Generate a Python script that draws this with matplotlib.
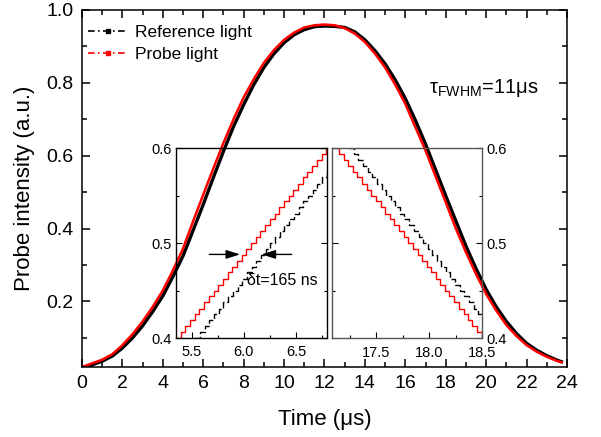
import matplotlib
matplotlib.use('Agg')
import matplotlib.pyplot as plt
from matplotlib.lines import Line2D
from matplotlib.ticker import MultipleLocator, FormatStrFormatter

plt.rcParams['font.family'] = ['Liberation Sans', 'DejaVu Sans']
plt.rcParams['mathtext.fontset'] = 'custom'
plt.rcParams['mathtext.rm'] = 'Liberation Sans'
plt.rcParams['mathtext.it'] = 'Liberation Sans:italic'

# ---------------- data ----------------
time_us = [0, 0.5, 1, 1.5, 2, 2.5, 3, 3.5, 4, 4.5, 5, 5.5, 6, 6.5, 7, 7.5, 8, 8.5,
           9, 9.5, 10, 10.5, 11, 11.5, 12, 12.5, 13, 13.5, 14, 14.5, 15, 15.5, 16,
           16.5, 17, 17.5, 18, 18.5, 19, 19.5, 20, 20.5, 21, 21.5, 22, 22.5, 23,
           23.5, 23.8]
reference_light = [0.018, 0.026, 0.036, 0.050, 0.072, 0.100, 0.133, 0.172, 0.215,
                   0.268, 0.325, 0.395, 0.466, 0.540, 0.612, 0.680, 0.740, 0.795,
                   0.842, 0.880, 0.910, 0.932, 0.946, 0.954, 0.956, 0.955, 0.952,
                   0.940, 0.918, 0.888, 0.852, 0.808, 0.757, 0.697, 0.632, 0.561,
                   0.490, 0.421, 0.352, 0.290, 0.233, 0.185, 0.145, 0.112, 0.085,
                   0.066, 0.051, 0.039, 0.033]
probe_light = [0.020, 0.030, 0.040, 0.055, 0.080, 0.110, 0.145, 0.185, 0.230,
               0.285, 0.345, 0.420, 0.493, 0.565, 0.635, 0.700, 0.760, 0.810,
               0.855, 0.890, 0.918, 0.938, 0.952, 0.958, 0.960, 0.958, 0.950,
               0.935, 0.912, 0.880, 0.842, 0.795, 0.742, 0.678, 0.614, 0.543,
               0.472, 0.400, 0.335, 0.275, 0.220, 0.175, 0.135, 0.105, 0.080,
               0.062, 0.048, 0.037, 0.032]

# inset 1 (rising edge, digitised steps)
in1_probe_t = [5.35, 5.395, 5.44, 5.485, 5.53, 5.575, 5.62, 5.665, 5.71, 5.755,
               5.80, 5.845, 5.89, 5.935, 5.98, 6.025, 6.07, 6.115, 6.16, 6.205,
               6.25, 6.295, 6.34, 6.385, 6.43, 6.475, 6.52, 6.565, 6.61, 6.655,
               6.70, 6.745, 6.79, 6.84]
in1_probe_v = [0.400, 0.406, 0.4125, 0.419, 0.425, 0.431, 0.4375, 0.444, 0.450,
               0.456, 0.4625, 0.469, 0.475, 0.481, 0.4875, 0.494, 0.500, 0.506,
               0.5125, 0.519, 0.525, 0.531, 0.5375, 0.544, 0.550, 0.556, 0.5625,
               0.569, 0.575, 0.581, 0.5875, 0.594, 0.600, 0.606]
in1_ref_t = [5.49, 5.535, 5.58, 5.625, 5.67, 5.715, 5.76, 5.805, 5.85, 5.895,
             5.94, 5.985, 6.03, 6.075, 6.12, 6.165, 6.21, 6.255, 6.30, 6.345,
             6.39, 6.435, 6.48, 6.525, 6.57, 6.615, 6.66, 6.705, 6.75, 6.795, 6.84]
in1_ref_v = [0.394, 0.400, 0.406, 0.4125, 0.419, 0.425, 0.431, 0.4375, 0.444,
             0.450, 0.456, 0.4625, 0.469, 0.475, 0.481, 0.4875, 0.494, 0.500,
             0.506, 0.5125, 0.519, 0.525, 0.531, 0.5375, 0.544, 0.550, 0.556,
             0.5625, 0.569, 0.575, 0.581]

# inset 2 (falling edge, digitised steps)
in2_probe_t = [17.06, 17.10, 17.145, 17.19, 17.235, 17.28, 17.32, 17.365, 17.41,
               17.45, 17.495, 17.54, 17.58, 17.625, 17.67, 17.715, 17.76, 17.80,
               17.845, 17.89, 17.93, 17.975, 18.02, 18.06, 18.105, 18.15, 18.19,
               18.235, 18.28, 18.325, 18.37, 18.41, 18.455, 18.50]
in2_probe_v = [0.606, 0.600, 0.594, 0.5875, 0.581, 0.575, 0.569, 0.5625, 0.556,
               0.550, 0.544, 0.5375, 0.531, 0.525, 0.519, 0.5125, 0.506, 0.500,
               0.494, 0.4875, 0.481, 0.475, 0.469, 0.4625, 0.456, 0.450, 0.444,
               0.4375, 0.431, 0.425, 0.419, 0.4125, 0.406, 0.400]
in2_ref_t = [17.20, 17.24, 17.285, 17.33, 17.375, 17.42, 17.46, 17.505, 17.55,
             17.59, 17.635, 17.68, 17.72, 17.765, 17.81, 17.855, 17.90, 17.94,
             17.985, 18.03, 18.07, 18.115, 18.16, 18.20, 18.245, 18.29, 18.33,
             18.375, 18.42, 18.465, 18.51]
in2_ref_v = [0.606, 0.600, 0.594, 0.5875, 0.581, 0.575, 0.569, 0.5625, 0.556,
             0.550, 0.544, 0.5375, 0.531, 0.525, 0.519, 0.5125, 0.506, 0.500,
             0.494, 0.4875, 0.481, 0.475, 0.469, 0.4625, 0.456, 0.450, 0.444,
             0.4375, 0.431, 0.425, 0.419]

series_labels = ['Reference light', 'Probe light']
delay_left = [5.67, 5.965]
delay_right = [6.46, 6.17]
delay_level = 0.488

# ---------------- figure ----------------
fig = plt.figure(figsize=(6.01, 4.37), dpi=100)
ax = fig.add_axes([0.1364, 0.1602, 0.8070, 0.8170])

ax.plot(time_us, reference_light, color='black', lw=2.4, solid_capstyle='butt')
ax.plot(time_us, probe_light, color='red', lw=1.8, solid_capstyle='butt')

ax.set_xlim(0, 24)
ax.set_ylim(0.02, 1.0)
ax.xaxis.set_major_locator(MultipleLocator(2))
ax.xaxis.set_minor_locator(MultipleLocator(1))
ax.yaxis.set_major_locator(MultipleLocator(0.2))
ax.yaxis.set_minor_locator(MultipleLocator(0.1))
ax.yaxis.set_major_formatter(FormatStrFormatter('%.1f'))
ax.tick_params(which='both', direction='in', top=True, right=True, width=1.1)
ax.tick_params(which='major', length=6, labelsize=14, pad=6)
ax.tick_params(which='minor', length=3.5)
for s in ax.spines.values():
    s.set_linewidth(1.1)
ax.set_xlabel('Time (μs)', fontsize=16, labelpad=12)
ax.set_ylabel('Probe intensity (a.u.)', fontsize=16, labelpad=8)

handles = [
    Line2D([], [], color='black', lw=1.2, linestyle=(0, (4, 2, 1, 2)),
           marker='s', markersize=3),
    Line2D([], [], color='red', lw=1.2, linestyle=(0, (4, 2, 1, 2)),
           marker='s', markersize=3),
]
ax.legend(handles, series_labels, loc='upper left', frameon=False,
          bbox_to_anchor=(0.012, 0.958), borderaxespad=0, borderpad=0,
          fontsize=12.5, handlelength=2.3, handletextpad=0.4, labelspacing=0.4)

ax.text(17.17, 0.773, r'$\mathregular{τ_{FWHM}}$=11μs', fontsize=14.5,
        ha='left', va='baseline')

# ---------------- inset 1 ----------------
a1 = fig.add_axes([0.2928, 0.2265, 0.2517, 0.4348])
a1.patch.set_alpha(0)
a1.plot(in1_probe_t, in1_probe_v, color='red', lw=1.0, drawstyle='steps-post')
a1.plot(in1_ref_t, in1_ref_v, color='black', lw=1.0, drawstyle='steps-post',
        linestyle=(0, (5, 2)))
a1.set_xlim(5.35, 6.80)
a1.set_ylim(0.4, 0.6)
a1.xaxis.set_major_locator(MultipleLocator(0.5))
a1.xaxis.set_minor_locator(MultipleLocator(0.25))
a1.yaxis.set_major_locator(MultipleLocator(0.1))
a1.yaxis.set_minor_locator(MultipleLocator(0.05))
a1.xaxis.set_major_formatter(FormatStrFormatter('%.1f'))
a1.yaxis.set_major_formatter(FormatStrFormatter('%.1f'))
a1.tick_params(which='both', direction='in', right=True, labelsize=10.5, width=0.8)
a1.tick_params(which='major', length=4, pad=3)
a1.tick_params(axis='x', which='major', pad=5)
a1.tick_params(which='minor', length=2.5)
for s in a1.spines.values():
    s.set_linewidth(1.0)

arrow_kw = dict(arrowstyle='-|>,head_length=0.7,head_width=0.22', color='black',
                lw=1.0, shrinkA=0, shrinkB=0, mutation_scale=12)
a1.annotate('', xy=(delay_left[1], delay_level), xytext=(delay_left[0], delay_level),
            arrowprops=arrow_kw)
a1.annotate('', xy=(delay_right[1], delay_level), xytext=(delay_right[0], delay_level),
            arrowprops=arrow_kw)
a1.text(6.03, 0.461, 'δt=165 ns', fontsize=11.5, ha='left', va='center')

# ---------------- inset 2 ----------------
a2 = fig.add_axes([0.5524, 0.2265, 0.2496, 0.4348])
a2.patch.set_alpha(0)
a2.plot(in2_probe_t, in2_probe_v, color='red', lw=1.0, drawstyle='steps-post')
a2.plot(in2_ref_t, in2_ref_v, color='black', lw=1.0, drawstyle='steps-post',
        linestyle=(0, (5, 2)))
a2.set_xlim(17.08, 18.5)
a2.set_ylim(0.4, 0.6)
a2.xaxis.set_major_locator(MultipleLocator(0.5))
a2.xaxis.set_minor_locator(MultipleLocator(0.25))
a2.yaxis.set_major_locator(MultipleLocator(0.1))
a2.yaxis.set_minor_locator(MultipleLocator(0.05))
a2.xaxis.set_major_formatter(FormatStrFormatter('%.1f'))
a2.yaxis.set_major_formatter(FormatStrFormatter('%.1f'))
a2.yaxis.tick_right()
a2.tick_params(which='both', direction='in', left=True, right=True,
               labelleft=False, labelright=True, labelsize=10.5, width=0.8)
a2.tick_params(which='major', length=4, pad=3)
a2.tick_params(axis='x', which='major', pad=6)
a2.tick_params(which='minor', length=2.5)
for s in a2.spines.values():
    s.set_linewidth(1.0)
    s.set_color('#555555')

fig.savefig('out.png', dpi=100)
